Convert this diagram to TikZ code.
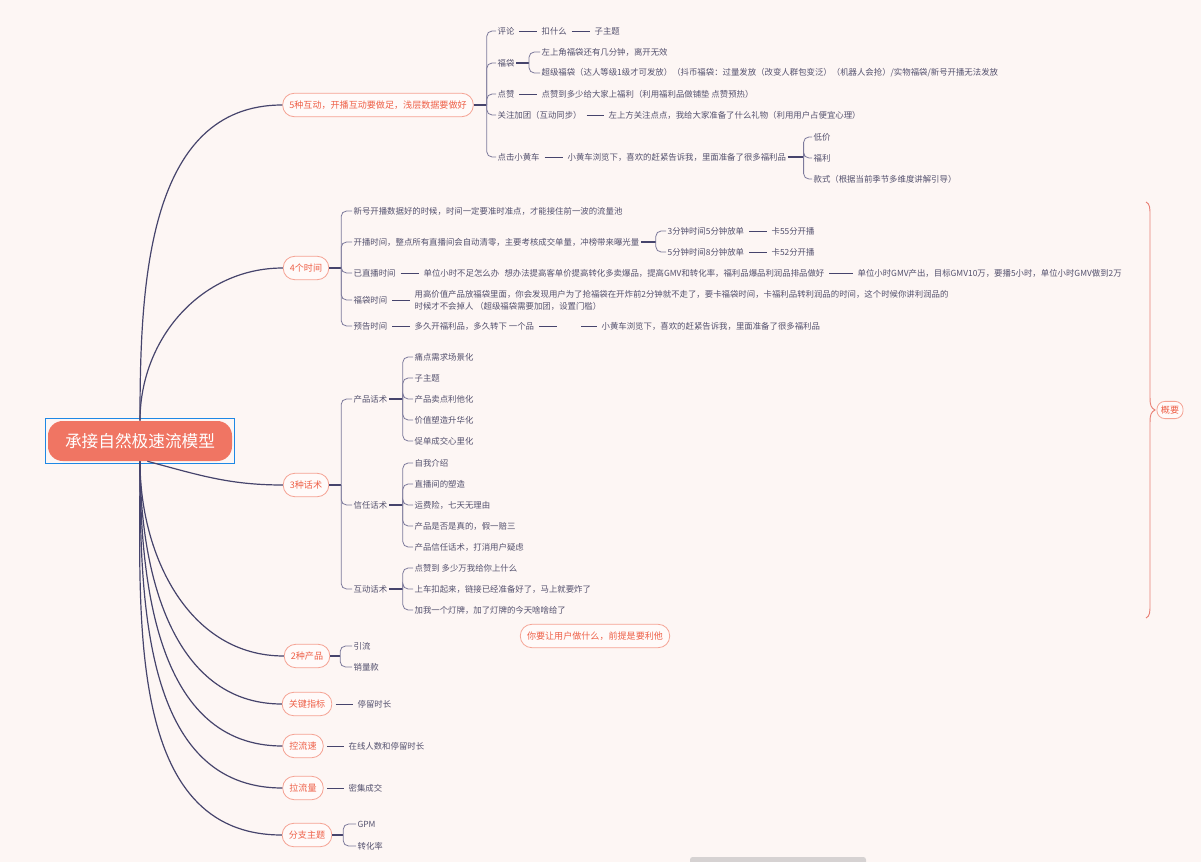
\documentclass[tikz,border=0pt]{standalone}
\usepackage{fontspec}
\setmainfont{Noto Sans CJK SC}
\usetikzlibrary{fit}
\definecolor{paper}{RGB}{253,246,244}
\definecolor{rootfill}{RGB}{240,117,99}
\definecolor{selblue}{RGB}{30,136,229}
\definecolor{topicln}{RGB}{245,163,148}
\definecolor{topictx}{RGB}{238,96,72}
\definecolor{topicbg}{RGB}{255,250,249}
\definecolor{linkc}{RGB}{70,68,108}
\definecolor{twigc}{RGB}{125,122,156}
\definecolor{leaftx}{RGB}{84,81,110}
\definecolor{sumred}{RGB}{233,128,118}
\definecolor{scrollc}{RGB}{214,210,210}

\begin{document}
\begin{tikzpicture}[x=0.75pt, y=-0.75pt,
  rootbox/.style={fill=rootfill, text=white, rounded corners=11pt, minimum width=138pt, minimum height=30pt, font=\fontsize{12.5}{14}\selectfont},
  selbox/.style={draw=selblue, line width=0.8pt, inner sep=1.5pt},
  topicbox/.style={draw=topicln, fill=topicbg, text=topictx, line width=0.6pt, rounded corners=8.5pt, minimum height=17.5pt, inner xsep=5pt, font=\fontsize{6.8}{8}\selectfont},
  sumtag/.style={draw=topicln, fill=topicbg, text=topictx, line width=0.6pt, rounded corners=6pt, minimum height=12.5pt, inner xsep=3pt, font=\fontsize{6.8}{8}\selectfont},
  leafbox/.style={anchor=west, inner sep=1pt, text=leaftx, font=\fontsize{6.3}{9}\selectfont},
  mainline/.style={draw=linkc, line width=0.9pt},
  stubline/.style={draw=linkc, line width=1.5pt},
  twigline/.style={draw=twigc, line width=0.6pt, rounded corners=4pt},
  linkline/.style={draw=linkc, line width=0.6pt, shorten <=2.5pt, shorten >=2.5pt}
]
  \fill[paper] (0,0) rectangle (1201,862);
  \useasboundingbox (0,0) rectangle (1201,862);

  \node[rootbox] (root) at (140,441) {承接自然极速流模型};
  \node[selbox, fit=(root)] (sel) {};

  % topics
  \node[topicbox] (hd) at (378,105) {5种互动，开播互动要做足，浅层数据要做好};
  \node[topicbox] (sj) at (306,268) {4个时间};
  \node[topicbox] (hs) at (306,485) {3种话术};
  \node[topicbox] (cp) at (307,656) {2种产品};
  \node[topicbox] (zb) at (307,704) {关键指标};
  \node[topicbox] (ls) at (303,746) {控流速};
  \node[topicbox] (ll) at (303,788) {拉流量};
  \node[topicbox] (fz) at (307,835) {分支主题};
  \node[topicbox] (lt) at (595,636) {你要让用户做什么，前提是要利他};

  \draw[mainline] (root.north) to[out=90, in=180] (hd.west);
  \draw[mainline] (root.north) to[out=90, in=180] (sj.west);
  \draw[mainline] (root.-70) to[out=-15, in=180] (hs.west);
  \foreach \t in {cp,zb,ls,ll,fz}
    \draw[mainline] (root.south) to[out=-90, in=180] (\t.west);

  % 5种互动
  \node[leafbox] (pl) at (496,31) {评论};
  \node[leafbox] (pl1) at (540,31) {扣什么};
  \node[leafbox] (pl2) at (593,31) {子主题};
  \node[leafbox] (fd) at (496,63) {福袋};
  \node[leafbox] (fd1) at (540,52) {左上角福袋还有几分钟，离开无效};
  \node[leafbox] (fd2) at (540,73) {超级福袋（达人等级1级才可发放）（抖币福袋：过量发放（改变人群包变泛）（机器人会抢）/实物福袋/新号开播无法发放};
  \node[leafbox] (dz) at (496,94) {点赞};
  \node[leafbox] (dz1) at (540,94) {点赞到多少给大家上福利（利用福利品做铺垫 点赞预热）};
  \node[leafbox] (gz) at (496,115) {关注加团（互动同步）};
  \node[leafbox] (gz1) at (607,115) {左上方关注点点，我给大家准备了什么礼物（利用用户占便宜心理）};
  \node[leafbox] (xc) at (496,157) {点击小黄车};
  \node[leafbox] (xc1) at (566,157) {小黄车浏览下，喜欢的赶紧告诉我，里面准备了很多福利品};
  \node[leafbox] (xc11) at (812,137) {低价};
  \node[leafbox] (xc12) at (812,158) {福利};
  \node[leafbox] (xc13) at (812,179) {款式（根据当前季节多维度讲解引导）};

  \draw[stubline] (hd.east) -- ++(13,0);
  \foreach \c in {pl,fd,dz,gz,xc}
    \draw[twigline] (hd.east) ++(13,0) |- (\c.west);
  \draw[linkline] (pl.east) -- (pl1.west);
  \draw[linkline] (pl1.east) -- (pl2.west);
  \draw[stubline] (fd.east) -- ++(13,0);
  \foreach \c in {fd1,fd2}
    \draw[twigline] (fd.east) ++(13,0) |- (\c.west);
  \draw[linkline] (dz.east) -- (dz1.west);
  \draw[linkline] (gz.east) -- (gz1.west);
  \draw[linkline] (xc.east) -- (xc1.west);
  \draw[stubline] (xc1.east) -- ++(16,0);
  \foreach \c in {xc11,xc12,xc13}
    \draw[twigline] (xc1.east) ++(16,0) |- (\c.west);

  % 4个时间
  \node[leafbox] (sj1) at (352,211) {新号开播数据好的时候，时间一定要准时准点，才能接住前一波的流量池};
  \node[leafbox] (sj2) at (352,242) {开播时间，整点所有直播间会自动清零，主要考核成交单量，冲榜带来曝光量};
  \node[leafbox] (sj21) at (666,231) {3分钟时间5分钟放单};
  \node[leafbox] (sj211) at (770,231) {卡55分开播};
  \node[leafbox] (sj22) at (666,252) {5分钟时间8分钟放单};
  \node[leafbox] (sj221) at (770,252) {卡52分开播};
  \node[leafbox] (sj3) at (352,273) {已直播时间};
  \node[leafbox] (sj31) at (422,273) {单位小时不足怎么办\hspace{4pt}想办法提高客单价提高转化多卖爆品，提高GMV和转化率，福利品爆品利润品排品做好};
  \node[leafbox] (sj311) at (856,273) {单位小时GMV产出，目标GMV10万，要播5小时，单位小时GMV做到2万};
  \node[leafbox] (sj4) at (352,300) {福袋时间};
  \node[leafbox, align=left] (sj41) at (413,300) {用高价值产品放福袋里面，你会发现用户为了抢福袋在开炸前2分钟就不走了，要卡福袋时间，卡福利品转利润品的时间，这个时候你讲利润品的\\时候才不会掉人 （超级福袋需要加团，设置门槛）};
  \node[leafbox] (sj5) at (352,326) {预告时间};
  \node[leafbox] (sj51) at (413,326) {多久开福利品，多久转下 一个品};
  \node[leafbox, minimum width=13pt] (sj52) at (560,326) {};
  \node[leafbox] (sj53) at (600,326) {小黄车浏览下，喜欢的赶紧告诉我，里面准备了很多福利品};

  \draw[stubline] (sj.east) -- ++(12,0);
  \foreach \c in {sj1,sj2,sj3,sj4,sj5}
    \draw[twigline] (sj.east) ++(12,0) |- (\c.west);
  \draw[stubline] (sj2.east) -- ++(15,0);
  \foreach \c in {sj21,sj22}
    \draw[twigline] (sj2.east) ++(15,0) |- (\c.west);
  \draw[linkline] (sj21.east) -- (sj211.west);
  \draw[linkline] (sj22.east) -- (sj221.west);
  \draw[linkline] (sj3.east) -- (sj31.west);
  \draw[linkline] (sj31.east) -- (sj311.west);
  \draw[linkline] (sj4.east) -- (sj41.west);
  \draw[linkline] (sj5.east) -- (sj51.west);
  \draw[linkline] (sj51.east) -- (sj52.west);
  \draw[linkline] (sj52.east) -- (sj53.west);

  % 3种话术
  \node[leafbox] (cpw) at (352,399) {产品话术};
  \node[leafbox] (xrw) at (352,505) {信任话术};
  \node[leafbox] (hdw) at (352,589) {互动话术};
  \foreach \t [count=\i] in {痛点需求场景化,子主题,产品卖点利他化,价值塑造升华化,促单成交心里化}
    \node[leafbox] (cpw\i) at (413,336+21*\i) {\t};
  \foreach \t [count=\i] in {自我介绍,直播间的塑造,运费险，七天无理由,产品是否是真的，假一赔三,产品信任话术，打消用户疑虑}
    \node[leafbox] (xrw\i) at (413,442+21*\i) {\t};
  \foreach \t [count=\i] in {点赞到 多少万我给你上什么,上车扣起来，链接已经准备好了，马上就要炸了,加我一个灯牌，加了灯牌的今天啥啥给了}
    \node[leafbox] (hdw\i) at (413,547+21*\i) {\t};

  \draw[stubline] (hs.east) -- ++(12,0);
  \foreach \c in {cpw,xrw,hdw}
    \draw[twigline] (hs.east) ++(12,0) |- (\c.west);
  \draw[stubline] (cpw.east) -- ++(14,0);
  \foreach \i in {1,...,5}
    \draw[twigline] (cpw.east) ++(14,0) |- (cpw\i.west);
  \draw[stubline] (xrw.east) -- ++(14,0);
  \foreach \i in {1,...,5}
    \draw[twigline] (xrw.east) ++(14,0) |- (xrw\i.west);
  \draw[stubline] (hdw.east) -- ++(14,0);
  \foreach \i in {1,2,3}
    \draw[twigline] (hdw.east) ++(14,0) |- (hdw\i.west);

  % lower topics
  \node[leafbox] (cp1) at (352,646) {引流};
  \node[leafbox] (cp2) at (352,667) {销量款};
  \node[leafbox] (zb1) at (356,704) {停留时长};
  \node[leafbox] (ls1) at (347,746) {在线人数和停留时长};
  \node[leafbox] (ll1) at (347,788) {密集成交};
  \node[leafbox] (fz1) at (356,824) {GPM};
  \node[leafbox] (fz2) at (356,846) {转化率};

  \draw[stubline] (cp.east) -- ++(10,0);
  \foreach \c in {cp1,cp2}
    \draw[twigline] (cp.east) ++(10,0) |- (\c.west);
  \draw[linkline] (zb.east) -- (zb1.west);
  \draw[linkline] (ls.east) -- (ls1.west);
  \draw[linkline] (ll.east) -- (ll1.west);
  \draw[stubline] (fz.east) -- ++(11,0);
  \foreach \c in {fz1,fz2}
    \draw[twigline] (fz.east) ++(11,0) |- (\c.west);

  % summary brace
  \node[sumtag] (gy) at (1170,410) {概要};
  \draw[sumred, line width=0.7pt] (1146,202) .. controls (1150,204) and (1150,208) .. (1150,216)
    -- (1150,398) .. controls (1150,405) and (1151,408) .. (1155,410)
    .. controls (1151,412) and (1150,415) .. (1150,422)
    -- (1150,604) .. controls (1150,612) and (1150,616) .. (1146,618);

  \fill[scrollc, rounded corners=2pt] (690,857) rectangle (866,866);
\end{tikzpicture}
\end{document}
